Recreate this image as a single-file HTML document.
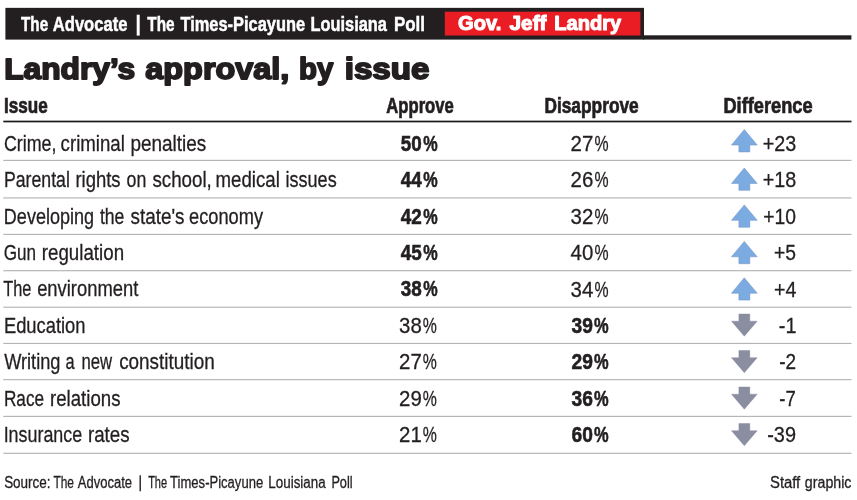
<!DOCTYPE html>
<html lang="en"><head><meta charset="utf-8"><title>Landry's approval, by issue</title>
<style>
html,body{margin:0;padding:0;background:#fff;}
svg{display:block;}
text{font-family:"Liberation Sans",sans-serif;fill:#231f20;}
.b{font-weight:bold;}
.w{fill:#fff;}
.s1{stroke:#231f20;stroke-width:.3px;}
.s4{stroke:#231f20;stroke-width:.6px;}
.s7{stroke:#231f20;stroke-width:.7px;}
.s5{stroke:#231f20;stroke-width:.5px;}
.s13{stroke:#231f20;stroke-width:1.8px;stroke-linejoin:round;}
.w.s5{stroke:#fff;}
.w.s9{stroke:#fff;stroke-width:1.1px;stroke-linejoin:round;}
</style></head><body>
<svg width="857" height="500" viewBox="0 0 857 500">
<rect width="857" height="500" fill="#fff"/>
<rect x="5.4" y="7.85" width="638.6" height="31.75" fill="#231f20"/>
<rect x="643" y="35.3" width="208.4" height="4.3" fill="#231f20"/>
<rect x="444.8" y="11.7" width="195.6" height="23.8" fill="#ea1c24"/>
<rect x="136.7" y="14.7" width="3" height="20.9" fill="#fff"/>
<rect x="3.3" y="120.65" width="848.2" height="1.7" fill="#1c1a1b"/>
<path d="M744.3 129.6 L757.2 145.0 H749.8 V151.9 H738.9 V145.0 H731.5 Z" fill="#7cabe2" stroke="#7698c4" stroke-width=".6"/>
<rect x="3.3" y="159.82" width="848.2" height="1.16" fill="#b4b4b4"/>
<path d="M744.3 168.0 L757.2 183.4 H749.8 V190.3 H738.9 V183.4 H731.5 Z" fill="#7cabe2" stroke="#7698c4" stroke-width=".6"/>
<rect x="3.3" y="197.37" width="848.2" height="1.16" fill="#b4b4b4"/>
<path d="M744.3 204.9 L757.2 220.3 H749.8 V227.2 H738.9 V220.3 H731.5 Z" fill="#7cabe2" stroke="#7698c4" stroke-width=".6"/>
<rect x="3.3" y="233.82" width="848.2" height="1.16" fill="#b4b4b4"/>
<path d="M744.3 241.4 L757.2 256.8 H749.8 V263.7 H738.9 V256.8 H731.5 Z" fill="#7cabe2" stroke="#7698c4" stroke-width=".6"/>
<rect x="3.3" y="270.12" width="848.2" height="1.16" fill="#b4b4b4"/>
<path d="M744.3 277.8 L757.2 293.2 H749.8 V300.1 H738.9 V293.2 H731.5 Z" fill="#7cabe2" stroke="#7698c4" stroke-width=".6"/>
<rect x="3.3" y="306.62" width="848.2" height="1.16" fill="#b4b4b4"/>
<path d="M738.9 314.0 H749.8 V321.2 H757.2 L744.3 336.2 L731.5 321.2 H738.9 Z" fill="#8b8ea0" stroke="#84879a" stroke-width=".4"/>
<rect x="3.3" y="342.87" width="848.2" height="1.16" fill="#b4b4b4"/>
<path d="M738.9 350.5 H749.8 V357.7 H757.2 L744.3 372.7 L731.5 357.7 H738.9 Z" fill="#8b8ea0" stroke="#84879a" stroke-width=".4"/>
<rect x="3.3" y="379.07" width="848.2" height="1.16" fill="#b4b4b4"/>
<path d="M738.9 387.0 H749.8 V394.2 H757.2 L744.3 409.2 L731.5 394.2 H738.9 Z" fill="#8b8ea0" stroke="#84879a" stroke-width=".4"/>
<rect x="3.3" y="415.82" width="848.2" height="1.16" fill="#b4b4b4"/>
<path d="M738.9 423.5 H749.8 V430.7 H757.2 L744.3 445.7 L731.5 430.7 H738.9 Z" fill="#8b8ea0" stroke="#84879a" stroke-width=".4"/>
<rect x="3.3" y="452.72" width="848.2" height="1.16" fill="#b4b4b4"/>
<rect x="139.5" y="475.3" width="1.4" height="16" fill="#231f20"/>
<text y="30.9" font-size="20.8" class="b w s5"><tspan x="21.05" textLength="27.10" lengthAdjust="spacingAndGlyphs">The</tspan> <tspan x="52.80" textLength="74.60" lengthAdjust="spacingAndGlyphs">Advocate</tspan></text>
<text y="30.9" font-size="20.8" class="b w s5"><tspan x="147.30" textLength="27.25" lengthAdjust="spacingAndGlyphs">The</tspan> <tspan x="180.40" textLength="124.80" lengthAdjust="spacingAndGlyphs">Times-Picayune</tspan> <tspan x="310.50" textLength="76.45" lengthAdjust="spacingAndGlyphs">Louisiana</tspan> <tspan x="393.90" textLength="31.10" lengthAdjust="spacingAndGlyphs">Poll</tspan></text>
<text y="30.3" font-size="20.2" class="b w s9"><tspan x="458.10" textLength="43.25" lengthAdjust="spacingAndGlyphs">Gov.</tspan> <tspan x="509.55" textLength="36.95" lengthAdjust="spacingAndGlyphs">Jeff</tspan> <tspan x="554.25" textLength="67.00" lengthAdjust="spacingAndGlyphs">Landry</tspan></text>
<text y="78.7" font-size="29.3" class="b s13"><tspan x="4.15" textLength="131.10" lengthAdjust="spacingAndGlyphs">Landry’s</tspan> <tspan x="145.35" textLength="143.90" lengthAdjust="spacingAndGlyphs">approval,</tspan> <tspan x="298.95" textLength="34.30" lengthAdjust="spacingAndGlyphs">by</tspan> <tspan x="344.70" textLength="84.80" lengthAdjust="spacingAndGlyphs">issue</tspan></text>
<text x="4.00" y="112.8" font-size="22.0" textLength="43.75" lengthAdjust="spacingAndGlyphs" class="b s7">Issue</text>
<text x="386.30" y="112.8" font-size="22.0" textLength="67.50" lengthAdjust="spacingAndGlyphs" class="b s7">Approve</text>
<text x="544.40" y="112.8" font-size="22.0" textLength="94.35" lengthAdjust="spacingAndGlyphs" class="b s7">Disapprove</text>
<text x="723.45" y="112.8" font-size="22.0" textLength="89.15" lengthAdjust="spacingAndGlyphs" class="b s7">Difference</text>
<text y="150.6" font-size="22.2" class="s1"><tspan x="3.90" textLength="52.60" lengthAdjust="spacingAndGlyphs">Crime,</tspan> <tspan x="60.60" textLength="64.25" lengthAdjust="spacingAndGlyphs">criminal</tspan> <tspan x="130.40" textLength="75.90" lengthAdjust="spacingAndGlyphs">penalties</tspan></text>
<text y="150.7" font-size="22.6" class="b s4"><tspan x="400.75" textLength="21.00" lengthAdjust="spacingAndGlyphs">50</tspan><tspan x="423.25" textLength="14.40" lengthAdjust="spacingAndGlyphs">%</tspan></text>
<text y="150.8" font-size="22.7" class="s1"><tspan x="570.60" textLength="22.75" lengthAdjust="spacingAndGlyphs">27</tspan><tspan x="594.55" textLength="14.10" lengthAdjust="spacingAndGlyphs">%</tspan></text>
<text x="762.70" y="150.8" font-size="22.7" textLength="33.55" lengthAdjust="spacingAndGlyphs" class="s1">+23</text>
<text y="187.0" font-size="22.2" class="s1"><tspan x="3.90" textLength="65.95" lengthAdjust="spacingAndGlyphs">Parental</tspan> <tspan x="75.40" textLength="45.20" lengthAdjust="spacingAndGlyphs">rights</tspan> <tspan x="126.60" textLength="19.75" lengthAdjust="spacingAndGlyphs">on</tspan> <tspan x="152.45" textLength="59.40" lengthAdjust="spacingAndGlyphs">school,</tspan> <tspan x="215.60" textLength="64.25" lengthAdjust="spacingAndGlyphs">medical</tspan> <tspan x="285.50" textLength="51.15" lengthAdjust="spacingAndGlyphs">issues</tspan></text>
<text y="187.1" font-size="22.6" class="b s4"><tspan x="400.75" textLength="21.00" lengthAdjust="spacingAndGlyphs">44</tspan><tspan x="423.25" textLength="14.40" lengthAdjust="spacingAndGlyphs">%</tspan></text>
<text y="187.2" font-size="22.7" class="s1"><tspan x="570.60" textLength="22.75" lengthAdjust="spacingAndGlyphs">26</tspan><tspan x="594.55" textLength="14.10" lengthAdjust="spacingAndGlyphs">%</tspan></text>
<text x="762.70" y="187.2" font-size="22.7" textLength="33.55" lengthAdjust="spacingAndGlyphs" class="s1">+18</text>
<text y="223.5" font-size="22.2" class="s1"><tspan x="3.85" textLength="90.20" lengthAdjust="spacingAndGlyphs">Developing</tspan> <tspan x="99.95" textLength="24.45" lengthAdjust="spacingAndGlyphs">the</tspan> <tspan x="130.50" textLength="54.00" lengthAdjust="spacingAndGlyphs">state's</tspan> <tspan x="189.10" textLength="73.90" lengthAdjust="spacingAndGlyphs">economy</tspan></text>
<text y="223.6" font-size="22.6" class="b s4"><tspan x="400.75" textLength="21.00" lengthAdjust="spacingAndGlyphs">42</tspan><tspan x="423.25" textLength="14.40" lengthAdjust="spacingAndGlyphs">%</tspan></text>
<text y="223.7" font-size="22.7" class="s1"><tspan x="570.60" textLength="22.75" lengthAdjust="spacingAndGlyphs">32</tspan><tspan x="594.55" textLength="14.10" lengthAdjust="spacingAndGlyphs">%</tspan></text>
<text x="763.25" y="223.7" font-size="22.7" textLength="32.75" lengthAdjust="spacingAndGlyphs" class="s1">+10</text>
<text y="259.9" font-size="22.2" class="s1"><tspan x="3.80" textLength="32.30" lengthAdjust="spacingAndGlyphs">Gun</tspan> <tspan x="41.80" textLength="82.25" lengthAdjust="spacingAndGlyphs">regulation</tspan></text>
<text y="260.0" font-size="22.6" class="b s4"><tspan x="400.75" textLength="21.00" lengthAdjust="spacingAndGlyphs">45</tspan><tspan x="423.25" textLength="14.40" lengthAdjust="spacingAndGlyphs">%</tspan></text>
<text y="260.1" font-size="22.7" class="s1"><tspan x="570.60" textLength="22.75" lengthAdjust="spacingAndGlyphs">40</tspan><tspan x="594.55" textLength="14.10" lengthAdjust="spacingAndGlyphs">%</tspan></text>
<text x="774.10" y="260.1" font-size="22.7" textLength="21.95" lengthAdjust="spacingAndGlyphs" class="s1">+5</text>
<text y="296.3" font-size="22.2" class="s1"><tspan x="3.25" textLength="28.10" lengthAdjust="spacingAndGlyphs">The</tspan> <tspan x="37.15" textLength="101.15" lengthAdjust="spacingAndGlyphs">environment</tspan></text>
<text y="296.4" font-size="22.6" class="b s4"><tspan x="400.75" textLength="21.00" lengthAdjust="spacingAndGlyphs">38</tspan><tspan x="423.25" textLength="14.40" lengthAdjust="spacingAndGlyphs">%</tspan></text>
<text y="296.5" font-size="22.7" class="s1"><tspan x="570.60" textLength="22.75" lengthAdjust="spacingAndGlyphs">34</tspan><tspan x="594.55" textLength="14.10" lengthAdjust="spacingAndGlyphs">%</tspan></text>
<text x="774.10" y="296.5" font-size="22.7" textLength="22.40" lengthAdjust="spacingAndGlyphs" class="s1">+4</text>
<text x="3.90" y="332.8" font-size="22.2" textLength="81.65" lengthAdjust="spacingAndGlyphs" class="s1">Education</text>
<text y="332.9" font-size="22.7" class="s1"><tspan x="399.10" textLength="22.70" lengthAdjust="spacingAndGlyphs">38</tspan><tspan x="422.85" textLength="14.10" lengthAdjust="spacingAndGlyphs">%</tspan></text>
<text y="332.9" font-size="22.6" class="b s4"><tspan x="571.50" textLength="21.35" lengthAdjust="spacingAndGlyphs">39</tspan><tspan x="594.00" textLength="14.60" lengthAdjust="spacingAndGlyphs">%</tspan></text>
<text x="778.85" y="332.9" font-size="22.7" textLength="17.70" lengthAdjust="spacingAndGlyphs" class="s1">-1</text>
<text y="369.2" font-size="22.2" class="s1"><tspan x="4.15" textLength="56.30" lengthAdjust="spacingAndGlyphs">Writing</tspan> <tspan x="65.50" textLength="9.10" lengthAdjust="spacingAndGlyphs">a</tspan> <tspan x="81.50" textLength="30.65" lengthAdjust="spacingAndGlyphs">new</tspan> <tspan x="119.15" textLength="95.60" lengthAdjust="spacingAndGlyphs">constitution</tspan></text>
<text y="369.4" font-size="22.7" class="s1"><tspan x="399.10" textLength="22.70" lengthAdjust="spacingAndGlyphs">27</tspan><tspan x="422.85" textLength="14.10" lengthAdjust="spacingAndGlyphs">%</tspan></text>
<text y="369.3" font-size="22.6" class="b s4"><tspan x="571.50" textLength="21.35" lengthAdjust="spacingAndGlyphs">29</tspan><tspan x="594.00" textLength="14.60" lengthAdjust="spacingAndGlyphs">%</tspan></text>
<text x="779.25" y="369.4" font-size="22.7" textLength="16.90" lengthAdjust="spacingAndGlyphs" class="s1">-2</text>
<text y="405.6" font-size="22.2" class="s1"><tspan x="3.90" textLength="40.15" lengthAdjust="spacingAndGlyphs">Race</tspan> <tspan x="50.00" textLength="70.50" lengthAdjust="spacingAndGlyphs">relations</tspan></text>
<text y="405.8" font-size="22.7" class="s1"><tspan x="399.10" textLength="22.70" lengthAdjust="spacingAndGlyphs">29</tspan><tspan x="422.85" textLength="14.10" lengthAdjust="spacingAndGlyphs">%</tspan></text>
<text y="405.7" font-size="22.6" class="b s4"><tspan x="571.50" textLength="21.35" lengthAdjust="spacingAndGlyphs">36</tspan><tspan x="594.00" textLength="14.60" lengthAdjust="spacingAndGlyphs">%</tspan></text>
<text x="779.25" y="405.8" font-size="22.7" textLength="16.50" lengthAdjust="spacingAndGlyphs" class="s1">-7</text>
<text y="442.0" font-size="22.2" class="s1"><tspan x="3.65" textLength="78.55" lengthAdjust="spacingAndGlyphs">Insurance</tspan> <tspan x="87.95" textLength="41.70" lengthAdjust="spacingAndGlyphs">rates</tspan></text>
<text y="442.2" font-size="22.7" class="s1"><tspan x="399.10" textLength="22.70" lengthAdjust="spacingAndGlyphs">21</tspan><tspan x="422.85" textLength="14.10" lengthAdjust="spacingAndGlyphs">%</tspan></text>
<text y="442.1" font-size="22.6" class="b s4"><tspan x="571.50" textLength="21.35" lengthAdjust="spacingAndGlyphs">60</tspan><tspan x="594.00" textLength="14.60" lengthAdjust="spacingAndGlyphs">%</tspan></text>
<text x="767.25" y="442.2" font-size="22.7" textLength="28.75" lengthAdjust="spacingAndGlyphs" class="s1">-39</text>
<text y="487.7" font-size="16.0" class="s1"><tspan x="4.15" textLength="46.40" lengthAdjust="spacingAndGlyphs">Source:</tspan> <tspan x="53.45" textLength="20.55" lengthAdjust="spacingAndGlyphs">The</tspan> <tspan x="77.85" textLength="54.20" lengthAdjust="spacingAndGlyphs">Advocate</tspan></text>
<text y="487.7" font-size="16.0" class="s1"><tspan x="148.15" textLength="18.95" lengthAdjust="spacingAndGlyphs">The</tspan> <tspan x="170.10" textLength="93.05" lengthAdjust="spacingAndGlyphs">Times-Picayune</tspan> <tspan x="268.35" textLength="57.25" lengthAdjust="spacingAndGlyphs">Louisiana</tspan> <tspan x="331.40" textLength="21.20" lengthAdjust="spacingAndGlyphs">Poll</tspan></text>
<text y="487.7" font-size="16.0" class="s1"><tspan x="770.00" textLength="30.25" lengthAdjust="spacingAndGlyphs">Staff</tspan> <tspan x="804.85" textLength="46.60" lengthAdjust="spacingAndGlyphs">graphic</tspan></text>
</svg></body></html>
